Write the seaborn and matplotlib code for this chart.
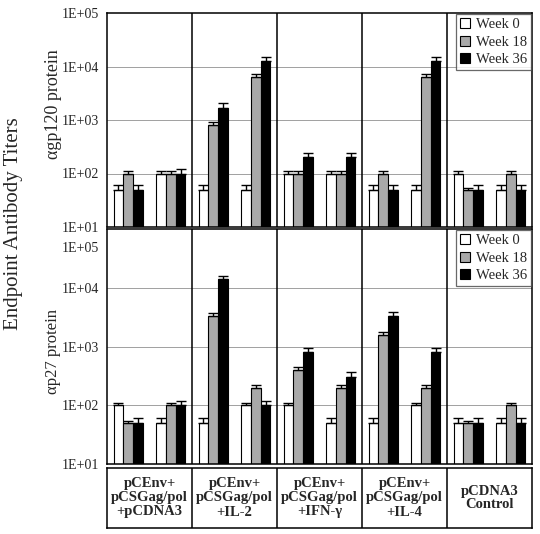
import numpy as np
import pandas as pd
import matplotlib
matplotlib.use("Agg")
import matplotlib.pyplot as plt
import seaborn as sns
from matplotlib.ticker import FixedLocator, FixedFormatter, NullLocator

sns.set_style("white")
plt.rcParams["font.family"] = ["Liberation Serif", "DejaVu Serif"]

# vaccine groups (bottom label row) and the two columns of bars in each
groups = ["pCEnv+\npCSGag/pol\n+pCDNA3", "pCEnv+\npCSGag/pol\n+IL-2",
          "pCEnv+\npCSGag/pol\n+IFN-\u03b3", "pCEnv+\npCSGag/pol\n+IL-4",
          "pCDNA3\nControl"]
slots = ["1a", "1b", "2a", "2b", "3a", "3b", "4a", "4b", "5a", "5b"]
weeks = ["Week 0", "Week 18", "Week 36"]

# anti-gp120 titers
gp120_w0 = [50, 100, 50, 50, 100, 100, 50, 50, 100, 50]
gp120_w18 = [100, 100, 800, 6300, 100, 100, 100, 6300, 50, 100]
gp120_w36 = [50, 100, 1700, 12500, 200, 200, 50, 12500, 50, 50]
# top of error bars
gp120_w0_err = [60, 110, 60, 60, 110, 110, 60, 60, 110, 60]
gp120_w18_err = [110, 110, 900, 7200, 110, 110, 110, 7200, 53, 110]
gp120_w36_err = [60, 122, 2100, 15000, 240, 240, 60, 15000, 60, 60]

# anti-p27 titers
p27_w0 = [100, 50, 50, 100, 100, 50, 50, 100, 50, 50]
p27_w18 = [50, 100, 3300, 200, 400, 200, 1600, 200, 50, 100]
p27_w36 = [50, 100, 14000, 100, 800, 300, 3300, 800, 50, 50]
p27_w0_err = [110, 60, 60, 110, 110, 60, 60, 110, 60, 60]
p27_w18_err = [55, 110, 3700, 220, 440, 220, 1750, 220, 55, 110]
p27_w36_err = [60, 120, 16000, 120, 950, 370, 3900, 950, 60, 60]

yticks = [1e1, 1e2, 1e3, 1e4, 1e5]
ytick_labels = ["1E+01", "1E+02", "1E+03", "1E+04", "1E+05"]
colors = ["white", "#a9a9a9", "black"]


def make_df(w0, w18, w36):
    rows = []
    for wk, vals in zip(weeks, [w0, w18, w36]):
        for s, v in zip(slots, vals):
            rows.append({"slot": s, "week": wk, "titer": v})
    return pd.DataFrame(rows)


def draw_panel(ax, df, errs, labels):
    ax.set_yscale("log")
    sns.barplot(data=df, x="slot", y="titer", hue="week", order=slots,
                hue_order=weeks, palette=colors, width=0.69, gap=0,
                edgecolor="black", linewidth=0.8, errorbar=None, ax=ax)
    # upper-only error bars on each bar
    for cont, err in zip(ax.containers, errs):
        for p, e in zip(cont.patches, err):
            xc = p.get_x() + p.get_width() / 2
            h = p.get_height()
            ax.errorbar(xc, h, yerr=[[0], [e - h]], fmt="none",
                        ecolor="black", elinewidth=1, capsize=3.5,
                        capthick=1, zorder=5)
    ax.set_ylim(10, 1e5)
    ax.set_xlim(-0.5, 9.5)
    ax.yaxis.set_major_locator(FixedLocator(yticks))
    ax.yaxis.set_major_formatter(FixedFormatter(labels))
    ax.yaxis.set_minor_locator(NullLocator())
    ax.tick_params(axis="y", length=0, labelsize=10, pad=6)
    ax.set_xticks([])
    ax.set_xlabel("")
    ax.set_ylabel("")
    for yv in [1e2, 1e3, 1e4]:
        ax.axhline(yv, color="#a0a0a0", lw=0.7, zorder=0)
    for xv in [1.5, 3.5, 5.5, 7.5]:
        ax.axvline(xv, color="black", lw=1.1, zorder=3)
    for sp in ax.spines.values():
        sp.set_color("black")
        sp.set_linewidth(1.1)
    leg = ax.legend(loc="upper right", frameon=True, fancybox=False,
                    handlelength=0.7, handleheight=0.7, handletextpad=0.4,
                    borderaxespad=0.1, borderpad=0.25, labelspacing=0.3,
                    prop={"family": "Liberation Serif", "size": 10.5})
    leg.get_frame().set_edgecolor("#444444")
    leg.get_frame().set_linewidth(0.9)


fig = plt.figure(figsize=(5.4, 5.34), dpi=100)
ax_top = fig.add_axes([107 / 540, 1 - 227 / 534, 425 / 540, 214 / 534])
ax_bot = fig.add_axes([107 / 540, 1 - 464 / 534, 425 / 540, 235 / 534])
ax_tab = fig.add_axes([107 / 540, 1 - 528 / 534, 425 / 540, 60 / 534])

draw_panel(ax_top, make_df(gp120_w0, gp120_w18, gp120_w36),
           [gp120_w0_err, gp120_w18_err, gp120_w36_err], ytick_labels)
draw_panel(ax_bot, make_df(p27_w0, p27_w18, p27_w36),
           [p27_w0_err, p27_w18_err, p27_w36_err], ytick_labels[:-1] + [""])
# the lower panel's top label sits a little below the frame
ax_bot.annotate(ytick_labels[-1], xy=(0, 1e5), xycoords=("axes fraction", "data"),
                xytext=(-6, -14), textcoords="offset points",
                ha="right", va="center", fontsize=10)

# group label row
ax_tab.set_xlim(0, len(groups))
ax_tab.set_ylim(0, 1)
ax_tab.set_xticks([])
ax_tab.set_yticks([])
for sp in ax_tab.spines.values():
    sp.set_color("black")
    sp.set_linewidth(1.1)
for i in range(1, len(groups)):
    ax_tab.axvline(i, color="black", lw=1.1)
for i, g in enumerate(groups):
    ax_tab.text(i + 0.5, 0.5, g, ha="center", va="center", fontsize=10.5,
                fontweight="bold", linespacing=1.1)

fig.text(14 / 540, 1 - 224 / 534, "Endpoint Antibody Titers", rotation=90,
         ha="center", va="center", fontsize=15)
fig.text(53 / 540, 1 - 104 / 534, "\u03b1gp120 protein", rotation=90,
         ha="center", va="center", fontsize=13)
fig.text(53 / 540, 1 - 352 / 534, "\u03b1p27 protein", rotation=90,
         ha="center", va="center", fontsize=12)

fig.savefig("out.png", dpi=100)
